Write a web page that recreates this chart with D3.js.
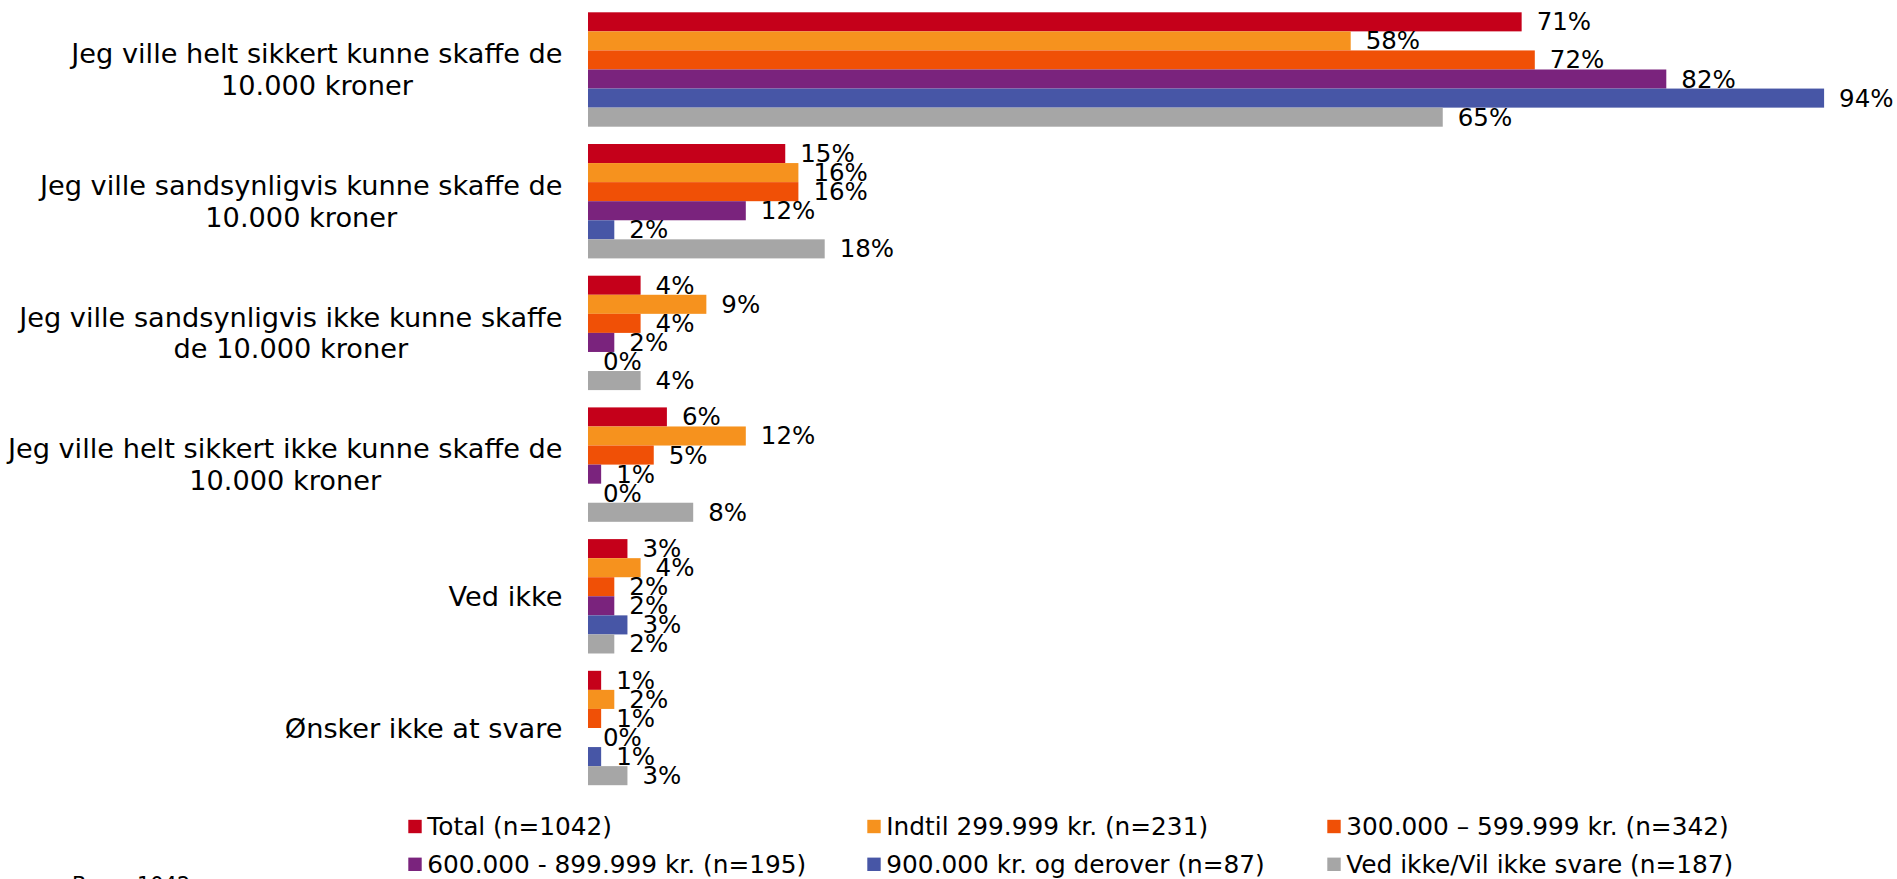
<!DOCTYPE html>
<html>
<head>
<meta charset="utf-8">
<script src="https://cdn.jsdelivr.net/npm/d3@7/dist/d3.min.js"></script>
<style>
  html, body { margin: 0; padding: 0; background: #fff; }
  svg { display: block; font-family: "DejaVu Sans", Verdana, sans-serif; }
</style>
</head>
<body>
<svg id="chart" width="1897" height="879"></svg>
<script>
// Answer categories (each entry is the wrapped lines of the label)
const categories = [
  ["Jeg ville helt sikkert kunne skaffe de", "10.000 kroner"],
  ["Jeg ville sandsynligvis kunne skaffe de", "10.000 kroner"],
  ["Jeg ville sandsynligvis ikke kunne skaffe", "de 10.000 kroner"],
  ["Jeg ville helt sikkert ikke kunne skaffe de", "10.000 kroner"],
  ["Ved ikke"],
  ["Ønsker ikke at svare"]
];

// Income groups (legend labels)
const seriesNames = [
  "Total (n=1042)",
  "Indtil 299.999 kr. (n=231)",
  "300.000 – 599.999 kr. (n=342)",
  "600.000 - 899.999 kr. (n=195)",
  "900.000 kr. og derover (n=87)",
  "Ved ikke/Vil ikke svare (n=187)"
];

const seriesColors = ["#c5001a", "#f6921e", "#f05006", "#7a237d", "#4756a6", "#a6a6a6"];

// Percent per series, one value per category
const total      = [71, 15, 4, 6, 3, 1];
const upTo300k   = [58, 16, 9, 12, 4, 2];
const from300k   = [72, 16, 4, 5, 2, 1];
const from600k   = [82, 12, 2, 1, 2, 0];
const from900k   = [94, 2, 0, 0, 3, 1];
const dontKnow   = [65, 18, 4, 8, 2, 3];
const seriesValues = [total, upTo300k, from300k, from600k, from900k, dontKnow];

const footnote = "Base: 1042";

const svg = d3.select("#chart");

const x = d3.scaleLinear().domain([0, 100]).range([588, 1903]);

const y = d3.scaleBand()
  .domain(d3.range(categories.length))
  .range([3.65, 793.85])
  .paddingInner(0.1314)
  .paddingOuter(0.0657);

const ySub = d3.scaleBand()
  .domain(d3.range(seriesNames.length))
  .range([0, y.bandwidth()]);

// Bars and value labels
const groups = svg.append("g").selectAll("g")
  .data(categories.map((c, i) => i))
  .join("g")
  .attr("transform", i => `translate(0,${y(i)})`);

groups.selectAll("rect")
  .data(ci => seriesValues.map((vals, si) => ({ si, v: vals[ci] })))
  .join("rect")
  .attr("x", x(0))
  .attr("y", d => ySub(d.si))
  .attr("width", d => x(d.v) - x(0))
  .attr("height", ySub.bandwidth())
  .attr("fill", d => seriesColors[d.si]);

groups.selectAll("text")
  .data(ci => seriesValues.map((vals, si) => ({ si, v: vals[ci] })))
  .join("text")
  .attr("x", d => x(d.v) + 15)
  .attr("y", d => ySub(d.si) + ySub.bandwidth() / 2)
  .attr("dominant-baseline", "central")
  .attr("font-size", 24.5)
  .attr("fill", "#000")
  .text(d => d.v + "%");

// Category labels: block right-aligned to the axis, lines centred within the block
const catLabelRight = 562.5;
const lineHeight = 31.7;
const catG = svg.append("g");
categories.forEach((lines, i) => {
  const cy = y(i) + y.bandwidth() / 2;
  const t = catG.append("text")
    .attr("font-size", 27.2)
    .attr("fill", "#000")
    .attr("text-anchor", "middle");
  const spans = lines.map((ln, k) => t.append("tspan")
    .attr("y", cy + (k - (lines.length - 1) / 2) * lineHeight)
    .attr("dominant-baseline", "central")
    .text(ln));
  const w = d3.max(spans, s => s.node().getComputedTextLength());
  spans.forEach(s => s.attr("x", catLabelRight - w / 2));
});

// Legend: three columns, two rows
const legendCols = [408.3, 867.3, 1327.3];
const legendRows = [819.8, 857.6];
const sw = 13.4;
const legend = svg.append("g").selectAll("g")
  .data(seriesNames)
  .join("g")
  .attr("transform", (d, i) => `translate(${legendCols[i % 3]},${legendRows[Math.floor(i / 3)]})`);
legend.append("rect")
  .attr("width", sw).attr("height", sw)
  .attr("fill", (d, i) => seriesColors[i]);
legend.append("text")
  .attr("x", 19)
  .attr("y", sw / 2)
  .attr("dominant-baseline", "central")
  .attr("font-size", 24.8)
  .attr("fill", "#000")
  .text(d => d);

svg.append("text")
  .attr("x", 72)
  .attr("y", 892)
  .attr("font-size", 21)
  .attr("fill", "#000")
  .text(footnote);
</script>
</body>
</html>
